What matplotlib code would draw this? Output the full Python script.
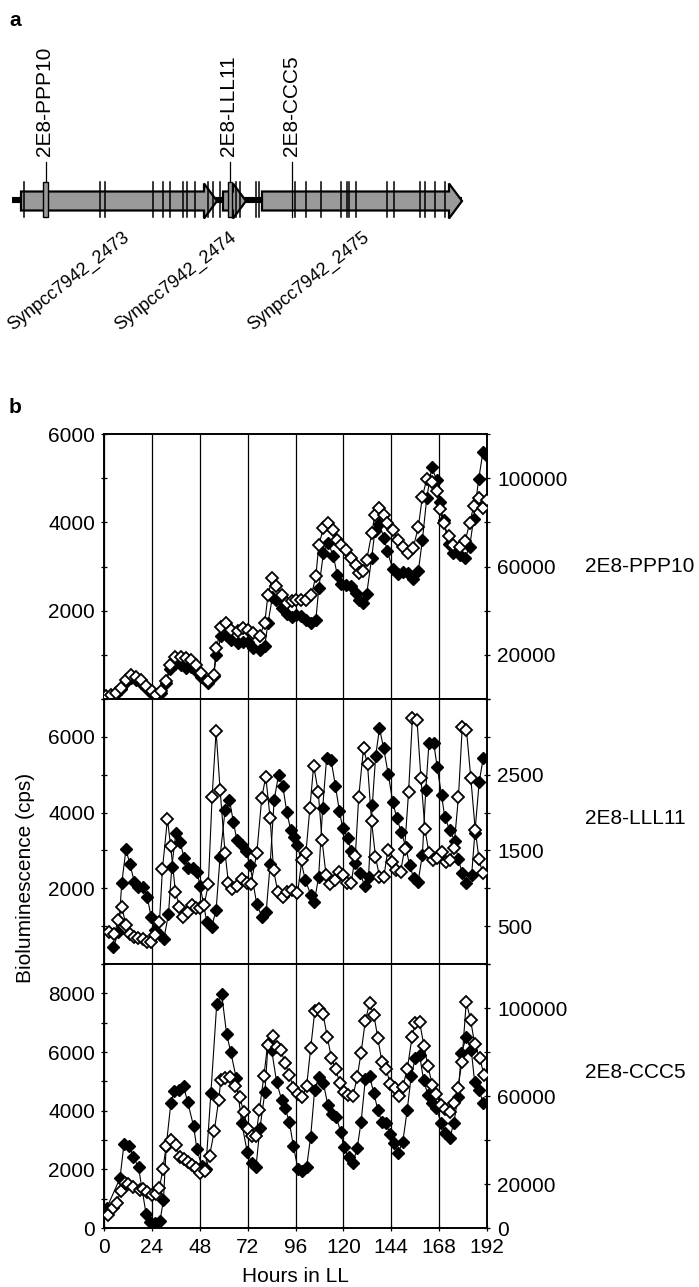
import matplotlib
matplotlib.use("Agg")
import matplotlib.pyplot as plt
from matplotlib.patches import Polygon, Rectangle

plt.rcParams['font.family'] = ['Liberation Sans', 'DejaVu Sans']

# ---------------- panel a: locus map ----------------
gene_names = ["Synpcc7942_2473", "Synpcc7942_2474", "Synpcc7942_2475"]
gene_start = [21, 223, 262]
gene_end = [217, 246, 462]
locus_span = [12, 462]
mutation_sites = [24, 100, 105, 153, 163, 170, 183, 187, 195, 208, 213, 220,
                  236, 240, 256, 259, 295, 306, 321, 341, 347, 349, 356, 387,
                  394, 420, 425, 435, 445]
insertion_names = ["2E8-PPP10", "2E8-LLL11", "2E8-CCC5"]
insertion_pos = [45.5, 229.8, 292.3]
insertion_boxed = [True, True, False]

# ---------------- panel b: bioluminescence traces ----------------
hours_ticks = [0, 24, 48, 72, 96, 120, 144, 168, 192]

# 2E8-PPP10 (filled: left axis, open: right axis)
ppp_t = [1, 3.5, 6, 8.5, 11, 13.5, 16, 18.5, 21, 24,
         26, 28.6, 31, 33.3, 35.8, 38.4, 41, 43.7, 46.2, 48.7,
         52, 55, 56.3, 58.8, 61.3, 63.8, 67, 69.7, 72.2, 74.7,
         78, 80.6, 82.2, 84.4, 86.4, 89, 91.5, 94, 96.5, 99,
         101.5, 104, 106.2, 107.7, 110, 112.4, 115, 117, 119, 121.3,
         123.6, 126.3, 128, 130, 131.7, 134.2, 135.8, 138, 140.4, 142,
         144.7, 147.2, 149.7, 152.6, 155, 157.6, 159.6, 161.8, 164.3, 166.8,
         168.2, 170.2, 172.7, 175.2, 178.5, 181, 183.3, 185.3, 187.8, 190,
         192]
ppp_filled = [30, 70, 110, 230, 380, 470, 430, 360, 250, 120,
              60, 140, 370, 690, 800, 760, 700, 720, 640, 500,
              360, 520, 990, 1430, 1450, 1340, 1260, 1300, 1290, 1150,
              1100, 1200, 1720, 2300, 2250, 2050, 1920, 1860, 1900, 1880,
              1800, 1720, 1800, 2520, 3300, 3540, 3230, 2800, 2600, 2580,
              2550, 2400, 2250, 2180, 2380, 3200, 3800, 3960, 3650, 3350,
              2950, 2820, 2880, 2850, 2720, 2900, 3600, 4550, 5250, 4950,
              4450, 4050, 3500, 3300, 3260, 3200, 3450, 4080, 4970, 5600,
              5500]
ppp_open = [1200, 2000, 2800, 5000, 8400, 10800, 10000, 8800, 5800, 3400,
            2000, 3400, 8000, 15600, 19200, 19200, 18600, 17800, 15600, 11800,
            8000, 11000, 23000, 32800, 34400, 31400, 30600, 32200, 31400, 29800,
            28400, 34600, 47200, 54800, 51000, 47200, 43400, 44200, 45000, 45000,
            45000, 47200, 55600, 69800, 77400, 79600, 76600, 72000, 69800, 67600,
            63800, 60800, 57000, 57800, 63000, 75000, 83400, 86400, 83400, 79600,
            76600, 72000, 69000, 66000, 68400, 78000, 91600, 99600, 98400, 94000,
            86000, 79600, 73600, 69800, 69000, 71400, 79600, 87200, 91000, 86400,
            90200]

# 2E8-LLL11
lll_t_filled = [4.7, 7.2, 8.9, 11, 13, 15.2, 17.2, 19.7, 21.7, 23.6,
                25.6, 28, 30, 32.3, 34, 36, 38, 40.3, 42, 44.5,
                46.5, 48.2, 51.5, 54, 56.2, 58.2, 60.7, 62.9, 64.9, 66.6,
                69, 71, 73.2, 76.6, 79.1, 81.3, 83.3, 85.3, 87.5, 89.6,
                91.6, 93.6, 95.3, 97, 100.9, 103.7, 105.4, 107.6, 109.6, 111.6,
                113.8, 116, 118, 119.7, 122.2, 123.9, 126, 128.4, 130.6, 132.6,
                134.5, 136.2, 138.1, 140.2, 142.5, 144.8, 146.8, 149, 151.2, 153.2,
                155.2, 157.4, 159.6, 161.3, 162.9, 165.3, 167, 169.2, 170.8, 173.3,
                175.9, 177.5, 179.7, 181.7, 184.3, 185.9, 188.1, 190.1]
lll_filled = [440, 836, 2131, 3029, 2633, 2175, 2043, 2043, 1761, 1250,
              898, 766, 660, 1312, 2571, 3452, 3232, 2791, 2527, 2527,
              2439, 2069, 1118, 986, 1426, 2835, 4068, 4332, 3742, 3275,
              3143, 2985, 2615, 1576, 1250, 1382, 2633, 4332, 4992, 4711,
              4024, 3540, 3363, 3143, 2219, 1823, 1629, 2307, 4112, 5433,
              5389, 4711, 4042, 3584, 3337, 2985, 2659, 2395, 2070, 2300,
              4200, 5500, 6225, 5700, 5010, 4270, 3848, 3496, 3099, 2615,
              2280, 2157, 2879, 4596, 5829, 5829, 5213, 4464, 3892, 3540,
              3249, 2774, 2395, 2131, 2351, 3452, 4816, 5433]
lll_t_open = [2.7, 5, 7.2, 8.9, 11, 13, 15.2, 17.2, 19.4, 21.4,
              23.4, 25.6, 27.8, 29.3, 31.8, 33.4, 35.8, 37.8, 39.8, 42,
              44, 46.2, 48.2, 50.2, 52.3, 54.2, 56.2, 58.2, 60.7, 62.4,
              64.4, 66.6, 69, 71.6, 73.6, 76.6, 79.1, 81.1, 83.3, 85,
              87.1, 89.5, 91.6, 94.1, 97, 99.2, 101.2, 103.2, 105.1, 107.4,
              109.3, 111.3, 113.4, 115.8, 117.6, 119.7, 121.7, 123.9, 126, 127.7,
              130.1, 132.1, 134.1, 136.1, 138.1, 140.3, 142.3, 144.3, 146.5, 148.7,
              150.7, 152.7, 154.6, 156.9, 158.9, 160.9, 162.9, 165, 167.1, 169.2,
              171.2, 173.3, 175.4, 177.7, 179.6, 181.7, 183.9, 186.1, 188, 189.8]
lll_open = [427, 392, 581, 757, 515, 392, 361, 348, 330, 295,
            295, 383, 559, 1255, 1915, 1559, 956, 757, 625, 691,
            779, 735, 735, 779, 1052, 2210, 3078, 2298, 1462, 1066,
            991, 1035, 1123, 1066, 1052, 1462, 2197, 2474, 1924, 1242,
            956, 890, 956, 978, 934, 1374, 1462, 2056, 2620, 2276,
            1638, 1176, 1052, 1110, 1220, 1176, 1066, 1066, 1431, 2210,
            2849, 2637, 1889, 1418, 1154, 1154, 1506, 1352, 1242, 1220,
            1519, 2276, 3245, 3223, 2452, 1783, 1462, 1374, 1396, 1484,
            1352, 1374, 1537, 2210, 3135, 3091, 2452, 1770, 1387, 1198]

# 2E8-CCC5
ccc_t_filled = [1.3, 8, 10, 12.7, 14.7, 17.3, 21.1, 23.1, 25.6, 28.1,
                29.8, 31.2, 33.5, 35.2, 37.7, 39.9, 41.9, 44.9, 46.6, 49,
                51, 53.6, 56.5, 59, 61.5, 63.5, 66.3, 69, 71.8, 74,
                76.2, 78.2, 80.7, 82.2, 84, 86.5, 89, 90.7, 92.9, 94.9,
                97.3, 99.4, 101.6, 103.6, 105.6, 107.7, 110, 112.2, 114.2, 116.4,
                118.6, 120.2, 122.6, 124.8, 126.9, 128.9, 131, 133.1, 135.3, 137.3,
                139.3, 141.5, 143.3, 145.3, 147.3, 149.8, 152, 154, 156, 158.2,
                160.2, 162.4, 164.6, 166.6, 169.1, 171.1, 173.3, 175.4, 177.4, 179.1,
                181.6, 184.1, 185.8, 188, 190]
ccc_filled = [670, 1693, 2851, 2795, 2431, 2068, 477, 216, 182, 250,
              954, 2795, 4249, 4680, 4703, 4839, 4305, 3476, 2681, 2100,
              2000, 4615, 7624, 7966, 6598, 6017, 5100, 3590, 2598, 2222,
              2085, 3419, 4650, 6256, 6085, 4991, 4376, 4103, 3624, 2803,
              2000, 1950, 2090, 3110, 4710, 5150, 4930, 4192, 3885, 3794,
              3283, 2772, 2408, 2227, 2715, 3624, 5067, 5180, 4590, 4021,
              3624, 3590, 3203, 2908, 2545, 2942, 4021, 5180, 5782, 5896,
              5044, 4533, 4249, 4078, 3567, 3226, 3056, 3590, 4453, 5953,
              6498, 6066, 4987, 4703, 4271]
ccc_t_open = [2, 4.7, 6.4, 8.4, 10.6, 12.2, 14.7, 17.8, 19.8, 21.8,
              24, 26, 27.8, 29.5, 31.2, 33.7, 36, 37.9, 39.9, 41.9,
              44, 46.2, 48.2, 50.8, 52.9, 55.3, 57.5, 58.6, 60.8, 63.3,
              65.8, 68, 70, 72.2, 74.2, 76.2, 77.9, 80.2, 82, 84.6,
              86.6, 88.7, 90.7, 92.9, 94.9, 97.3, 99.5, 101.6, 103.6, 105.7,
              107.7, 109.8, 111.9, 114, 116.1, 118.3, 120.3, 122.3, 124.8, 126.9,
              128.9, 131, 133.1, 135.3, 137.3, 139.3, 141.5, 143.5, 145.7, 147.7,
              149.8, 152, 154.4, 156, 158.2, 160.4, 162.4, 164.6, 166.6, 168.7,
              171.1, 173.3, 175.4, 177.4, 179.4, 181.6, 183.8, 185.8, 188.3, 190.5]
ccc_open = [5900, 8900, 11200, 17000, 20600, 20000, 18500, 17300, 17600, 16500,
            15000, 15300, 18000, 26800, 37300, 40000, 37700, 32100, 31200, 30100,
            28600, 27100, 24800, 25900, 32700, 44200, 58200, 67300, 68000, 68500,
            64500, 59700, 52900, 44800, 41800, 41900, 53800, 69300, 83400, 87100,
            82500, 80700, 75200, 69700, 63800, 60900, 59700, 64700, 81700, 98800,
            99500, 97300, 87000, 77300, 72100, 65900, 62000, 60500, 60000, 68500,
            79700, 94200, 102100, 96800, 86200, 75600, 72100, 65400, 63800, 60000,
            64200, 72100, 86600, 93000, 93800, 82700, 73600, 65000, 60900, 55900,
            53900, 52900, 56900, 63500, 75300, 102800, 94500, 83600, 77500, 69500]

# per-panel axis scales: left/right maxima, steps and labelled ticks
panels = [
    dict(name="2E8-PPP10", tf=ppp_t, vf=ppp_filled, to=ppp_t, vo=ppp_open,
         lmax=6000, lstep=1000, llab=[2000, 4000, 6000],
         rmax=120000, rstep=20000, rlab=[20000, 60000, 100000]),
    dict(name="2E8-LLL11", tf=lll_t_filled, vf=lll_filled, to=lll_t_open, vo=lll_open,
         lmax=7000, lstep=1000, llab=[2000, 4000, 6000],
         rmax=3500, rstep=500, rlab=[500, 1500, 2500]),
    dict(name="2E8-CCC5", tf=ccc_t_filled, vf=ccc_filled, to=ccc_t_open, vo=ccc_open,
         lmax=9000, lstep=1000, llab=[0, 2000, 4000, 6000, 8000],
         rmax=120000, rstep=20000, rlab=[0, 20000, 60000, 100000]),
]

W, H = 699, 1287
fig = plt.figure(figsize=(W / 100, H / 100), dpi=100)
FS = 15

# ---- locus map drawn in a pixel-like coordinate frame ----
ax_a = fig.add_axes([0, 1 - 340 / H, 1, 340 / H])
ax_a.set_xlim(0, W)
ax_a.set_ylim(340, 0)
ax_a.axis("off")
yc = 201
ax_a.plot(locus_span, [yc - 1, yc - 1], color="black", lw=4.4,
          solid_capstyle="butt", zorder=1)
for x0, x1 in zip(gene_start, gene_end):
    hl, bh, hh = 13, 9.5, 17.5
    verts = [(x0, yc - bh), (x1 - hl, yc - bh), (x1 - hl, yc - hh), (x1, yc),
             (x1 - hl, yc + hh), (x1 - hl, yc + bh), (x0, yc + bh)]
    ax_a.add_patch(Polygon(verts, closed=True, facecolor="#9a9a9a",
                           edgecolor="black", lw=1.6, zorder=2))
for m in mutation_sites:
    ax_a.plot([m, m], [yc - 19, yc + 16], color="black", lw=1.1, zorder=3)
for name, pos, boxed in zip(insertion_names, insertion_pos, insertion_boxed):
    ax_a.plot([pos, pos], [162, yc + 16 if not boxed else yc - 19],
              color="black", lw=0.9, zorder=3)
    if boxed:
        ax_a.add_patch(Rectangle((pos - 2.2, yc - 19), 4.4, 35, facecolor="#9a9a9a",
                                 edgecolor="black", lw=1.0, zorder=4))
    ax_a.text(pos - 1, 156, name, rotation=90, ha="center", va="bottom",
              fontsize=FS)
label_x = [69, 176, 309]
for name, lx in zip(gene_names, label_x):
    ax_a.text(lx, 281, name, rotation=38, ha="center", va="center",
              fontsize=13, rotation_mode="anchor")
ax_a.text(9, 20, "a", fontsize=FS, fontweight="bold", ha="left", va="center")
fig.text(9 / W, 1 - 408 / H, "b", fontsize=FS, fontweight="bold",
         ha="left", va="center")

# ---- time-course panels ----
left_px, right_px = 104, 487
tops = [434, 699, 964]
bottoms = [699, 964, 1228]
label_y = [566, 818, 1073]

for i, p in enumerate(panels):
    ax = fig.add_axes([left_px / W, 1 - bottoms[i] / H,
                       (right_px - left_px) / W, (bottoms[i] - tops[i]) / H])
    ax.set_xlim(0, 192)
    ax.set_ylim(0, p["lmax"])
    ax.set_xticks(hours_ticks)
    ax.set_axisbelow(True)
    ax.grid(axis="x", color="black", lw=0.9)
    ax.grid(axis="y", visible=False)
    lt = list(range(0, p["lmax"] + 1, p["lstep"]))
    ax.set_yticks(lt)
    ax.set_yticklabels([str(v) if v in p["llab"] else "" for v in lt])
    ax.tick_params(axis="y", direction="inout", length=5, width=0.9,
                   labelsize=FS, pad=4)
    if i < 2:
        ax.tick_params(axis="x", length=0, labelbottom=False)
    else:
        ax.set_xticklabels([str(h) for h in hours_ticks])
        ax.tick_params(axis="x", direction="inout", length=5, width=0.9,
                       labelsize=FS, pad=5)
    for s in ax.spines.values():
        s.set_linewidth(1.2)
    ax.plot(p["tf"], p["vf"], color="black", lw=0.8, marker="D", ms=6.4,
            mfc="black", mec="black", mew=1.0, zorder=3)

    ax2 = ax.twinx()
    ax2.set_ylim(0, p["rmax"])
    rt = list(range(0, p["rmax"] + 1, p["rstep"]))
    ax2.set_yticks(rt)
    ax2.set_yticklabels([str(v) if v in p["rlab"] else "" for v in rt])
    ax2.tick_params(axis="y", direction="inout", length=5, width=0.9,
                    labelsize=FS, pad=5)
    for s in ax2.spines.values():
        s.set_linewidth(1.2)
    ax2.plot(p["to"], p["vo"], color="black", lw=0.8, marker="D", ms=6.4,
             mfc="white", mec="black", mew=1.3, zorder=3)

    fig.text(585 / W, 1 - label_y[i] / H, p["name"], fontsize=FS,
             ha="left", va="center")

fig.text(26 / W, 1 - 878 / H, "Bioluminescence (cps)", rotation=90,
         fontsize=FS, ha="center", va="center")
fig.text(295 / W, 1 - 1276 / H, "Hours in LL", fontsize=FS,
         ha="center", va="center")

fig.savefig("out.png", dpi=100)
